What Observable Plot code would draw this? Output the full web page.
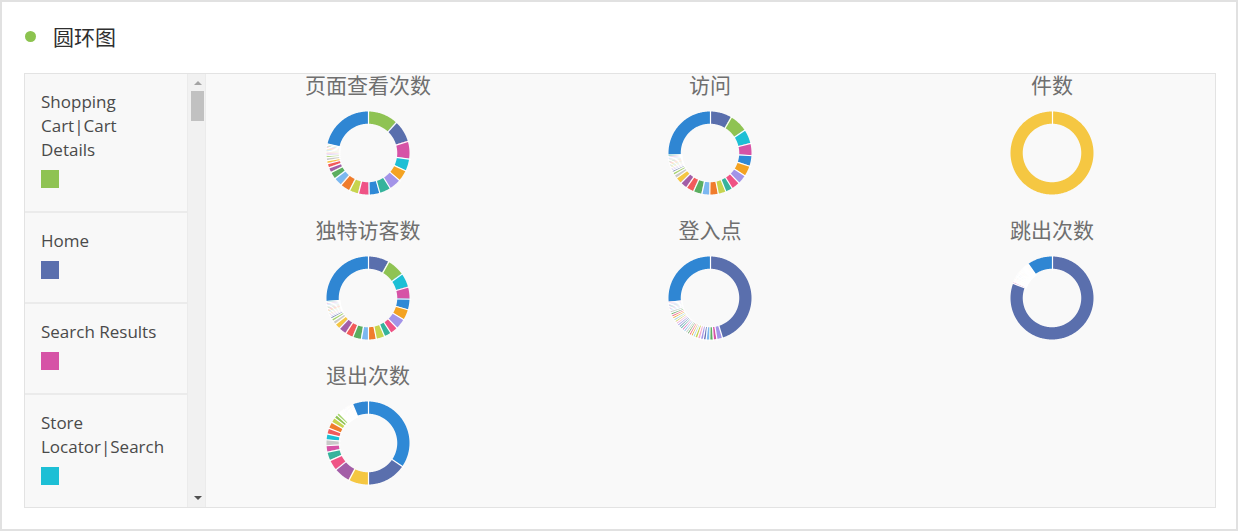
<!DOCTYPE html>
<html><head><meta charset="utf-8">
<script src="https://cdn.jsdelivr.net/npm/d3@7"></script>
<script src="https://cdn.jsdelivr.net/npm/@observablehq/plot@0.6"></script>
<style>
html,body{margin:0;padding:0;}
body{width:1238px;height:531px;position:relative;background:#fff;overflow:hidden;font-family:"Open Sans","Noto Sans",sans-serif;}
#frame{position:absolute;left:0;top:0;width:1234px;height:527px;border:2px solid #e1e1e1;}
#dot{position:absolute;left:25px;top:31px;width:11px;height:11px;border-radius:50%;background:#8cc34f;}
#title{position:absolute;left:53px;top:21px;font:21px/30px "Noto Sans CJK SC",sans-serif;color:#2f2f2f;}
#panel{position:absolute;left:24px;top:73px;width:1190px;height:433px;border:1px solid #e3e3e3;background:#ebebeb;}
#legend{position:absolute;left:25px;top:74px;width:162px;height:433px;overflow:hidden;background:#ebebeb;}
.cell{box-sizing:border-box;width:162px;background:#f8f8f8;margin-bottom:2px;padding:16px 18px 23px 16px;}
.cell:last-child{height:200px;}
.lbl{font-size:17px;line-height:24px;color:#4a4a4a;}
.lbl span{white-space:nowrap;}
.sw{width:18px;height:18px;margin-top:8px;}
#scroll{position:absolute;left:188px;top:74px;width:17px;height:433px;background:#f1f1f1;}
#thumb{position:absolute;left:191px;top:91px;width:13px;height:30px;background:#c1c1c1;}
#up{position:absolute;left:194px;top:81px;width:0;height:0;border-left:4px solid transparent;border-right:4px solid transparent;border-bottom:4px solid #a3a3a3;}
#down{position:absolute;left:194px;top:496px;width:0;height:0;border-left:4px solid transparent;border-right:4px solid transparent;border-top:4px solid #505050;}
#area{position:absolute;left:206px;top:74px;width:1009px;height:433px;background:#f9f9f9;}
#grid{position:absolute;left:197px;top:74px;display:grid;grid-template-columns:repeat(3,342px);grid-auto-rows:145px;}
.ct{height:24px;font:21px/24px "Noto Sans CJK SC",sans-serif;color:#6f6f6f;text-align:center;position:relative;top:-2px;}
.cd{margin-top:10px;display:flex;justify-content:center;}
</style></head>
<body>
<div id="frame"></div>
<div id="dot"></div><div id="title">圆环图</div>
<div id="panel"></div>
<div id="legend"></div>
<div id="scroll"></div><div id="thumb"></div><div id="up"></div><div id="down"></div>
<div id="area"></div>
<div id="grid"></div>
<script>
// ---- items (code, label, colour) ----
const itemCodes = ["cart","home","search","store","p05","p06","p07","p08","p09","p10","p11","p12","p13","p14","p15","p16","p17","p18","p19","p20"];
const itemLabels = ["Shopping Cart|Cart Details","Home","Search Results","Store Locator|Search","Item 05","Item 06","Item 07","Item 08","Item 09","Item 10","Item 11","Item 12","Item 13","Item 14","Item 15","Item 16","Item 17","Item 18","Item 19","Item 20"];
const itemColors = ["#8fc353","#5a6fad","#d653a6","#1dbfd5","#f4a322","#a394e8","#36b39c","#2f89d6","#ef5385","#c7d44e","#f07c2c","#7cb8f0","#5bae60","#a35ea7","#f35b5b","#f5c742","#c9c9c9","#a6d46b","#6c77b8","#2f86d3"];
const tinyCodes = ["t01","t02","t03","t04","t05","t06","t07","t08","t09","t10","t11","t12","t13","t14","t15","t16","t17","t18","t19","t20","t21","t22","t23","t24","t25","t26","t27","t28","t29","t30","t31","t32"];
const tinyPalette = ["#a394e8","#f7a9c8","#c7d44e","#9ad0ec","#f4a322","#ef5385","#5bae60","#c9c9c9","#7cb8f0","#d653a6","#36b39c","#6c77b8"];

// ---- legend (visible part of the scrolling list) ----
const legendCodes = ["cart","home","search","store"];

// ---- chart titles ----
const chartTitles = ["页面查看次数","访问","件数","独特访客数","登入点","跳出次数","退出次数"];

// ---- series (clockwise from 12 o'clock) ----
const pageViewsItems = ["cart","home","search","store","p05","p06","p07","p08","p09","p10","p11","p12","p13","p14","p15","p16","p17","p18","t01","t02","t03","t04","t05","t06","t07","t08","p20"];
const pageViewsValues = [42,31,25,17,16,17,16,15,15,13,14,12,10,7,6,4,4,3,2,2,2,2,2,2,2,2,77];

const visitsItems = ["home","cart","store","search","p08","p05","p06","p09","p07","p10","p11","p12","p13","p15","p14","p16","p17","p18","p19","t01","t02","t03","t04","t05","t06","t07","t08","t09","t10","t11","p20"];
const visitsValues = [30,26,20,17,15,15,13,12,10,11,12,11,12,11,10,9,5,4,3,2,2,2,2,2,2,2,2,2,2,2,92];

const occurrencesItems = ["p16"];
const occurrencesValues = [100];

const visitorsItems = ["home","cart","store","search","p08","p05","p06","p09","p07","p10","p11","p12","p13","p15","p14","p16","p17","p18","p19","t01","t02","t03","t04","t05","t06","t07","t08","t09","t10","t11","p20"];
const visitorsValues = [29,25,20,17,15,15,15,11,10,12,11,10,12,11,11,8,5,4,3,2,2,2,2,2,2,2,2,2,2,2,94];

const entriesItems = ["home","p06","search","p13","p12","p19","t01","t02","t03","t04","t05","t06","t07","t08","t09","t10","t11","t12","t13","t14","t15","t16","t17","t18","t19","t20","t21","t22","t23","t24","t25","t26","p20"];
const entriesValues = [163,8,5,5,5,4,4,4,4,3,3,3,3,3,3,3,3,3,3,3,3,3,3,3,3,3,2,2,2,2,2,2,95];

const bouncesItems = ["home","search","t01","t02","t03","t04","t05","t06","t07","t08","t09","t10","t11","t12","t13","t14","t15","t16","t17","t18","t19","t20","t21","t22","t23","t24","t25","t26","t27","t28","t29","t30","t31","t32","p20"];
const bouncesValues = [291,2,1,1,1,1,1,1,1,1,1,1,1,1,1,1,1,1,1,1,1,1,1,1,1,1,1,1,1,1,1,1,1,1,35];

const exitsItems = ["p08","home","p16","p14","p09","p07","search","p17","store","p15","p11","p10","cart","p18","t01","t02","t03","t04","t05","t06","t07","t08","t09","t10","t11","t12","t13","t14","t15","t16","t17","t18","t19","t20","t21","t22","p20"];
const exitsValues = [124,56,28,23,15,12,9,8,8,8,9,7,5,4,1,1,1,1,1,1,1,1,1,1,1,1,1,1,1,1,1,1,1,1,1,1,22];

const charts = [
  [pageViewsItems, pageViewsValues],
  [visitsItems, visitsValues],
  [occurrencesItems, occurrencesValues],
  [visitorsItems, visitorsValues],
  [entriesItems, entriesValues],
  [bouncesItems, bouncesValues],
  [exitsItems, exitsValues]
];

// colour scale domain/range
const colorDomain = itemCodes.concat(tinyCodes);
const colorRange = itemColors.concat(tinyCodes.map((_, i) => tinyPalette[i % tinyPalette.length]));
const colorOf = c => colorRange[colorDomain.indexOf(c)];

// legend
const legend = document.getElementById("legend");
legendCodes.forEach(code => {
  const cell = document.createElement("div"); cell.className = "cell";
  const lbl = document.createElement("div"); lbl.className = "lbl";
  itemLabels[itemCodes.indexOf(code)].split(" ").forEach((w, i) => {
    if (i) lbl.appendChild(document.createTextNode(" "));
    const s = document.createElement("span"); s.textContent = w; lbl.appendChild(s);
  });
  const sw = document.createElement("div"); sw.className = "sw"; sw.style.background = colorOf(code);
  cell.appendChild(lbl); cell.appendChild(sw); legend.appendChild(cell);
});

// donuts
const R1 = 1, R0 = 0.705, D = 45 / 41.5;
function donut(items, values) {
  const arcs = d3.pie().sort(null).value(d => d)(values);
  const pts = [], seps = [];
  arcs.forEach((a, i) => {
    const span = a.endAngle - a.startAngle;
    const n = Math.max(2, Math.ceil(span / (Math.PI / 180)) + 1);
    for (let k = 0; k < n; k++) {
      const t = a.startAngle + span * k / (n - 1);
      pts.push({item: items[i], ox: R1 * Math.sin(t), oy: R1 * Math.cos(t), ix: R0 * Math.sin(t), iy: R0 * Math.cos(t)});
    }
    seps.push(a.startAngle);
  });
  return Plot.plot({
    width: 90, height: 90, margin: 0,
    x: {domain: [-D, D], axis: null},
    y: {domain: [-D, D], axis: null},
    color: {domain: colorDomain, range: colorRange},
    style: {background: "transparent", overflow: "visible"},
    marks: [
      Plot.area(pts, {x1: "ox", y1: "oy", x2: "ix", y2: "iy", z: "item", fill: "item", curve: "linear"}),
      Plot.link(seps, {x1: t => (R0 - 0.03) * Math.sin(t), y1: t => (R0 - 0.03) * Math.cos(t), x2: t => (R1 + 0.03) * Math.sin(t), y2: t => (R1 + 0.03) * Math.cos(t), stroke: "#ffffff", strokeWidth: 1.2})
    ]
  });
}

const grid = document.getElementById("grid");
charts.forEach(([items, values], i) => {
  const cell = document.createElement("div");
  const t = document.createElement("div"); t.className = "ct"; t.textContent = chartTitles[i];
  const d = document.createElement("div"); d.className = "cd";
  d.appendChild(donut(items, values));
  cell.appendChild(t); cell.appendChild(d); grid.appendChild(cell);
});
</script>
</body></html>
